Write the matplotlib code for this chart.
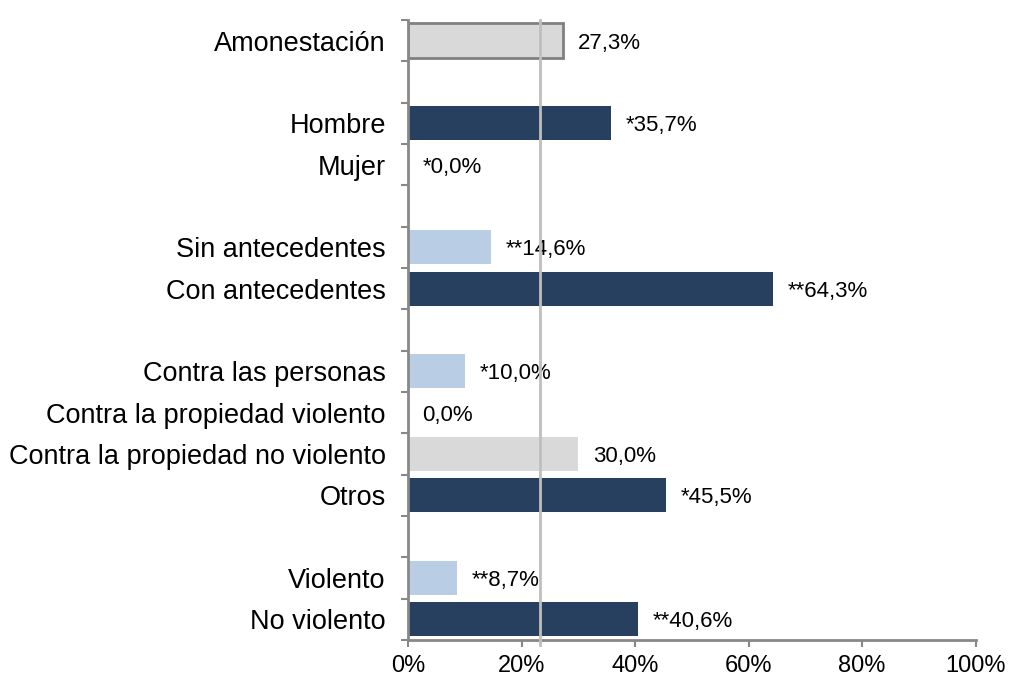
import matplotlib.pyplot as plt
import numpy as np

plt.rcParams['font.family'] = ['Liberation Sans', 'DejaVu Sans']

# one slot per row, '' = empty spacer row
categories = ['Amonestación', '', 'Hombre', 'Mujer', '',
              'Sin antecedentes', 'Con antecedentes', '',
              'Contra las personas', 'Contra la propiedad violento',
              'Contra la propiedad no violento', 'Otros', '',
              'Violento', 'No violento']
values = [27.3, None, 35.7, 0.0, None,
          14.6, 64.3, None,
          10.0, 0.0, 30.0, 45.5, None,
          8.7, 40.6]
labels = ['27,3%', '', '*35,7%', '*0,0%', '',
          '**14,6%', '**64,3%', '',
          '*10,0%', '0,0%', '30,0%', '*45,5%', '',
          '**8,7%', '**40,6%']
kinds = ['total', '', 'dark', 'dark', '',
         'light', 'dark', '',
         'light', 'grey', 'grey', 'dark', '',
         'light', 'dark']
reference_line = 23.2
xticks = [0, 20, 40, 60, 80, 100]

colors = {'total': '#D9D9D9', 'dark': '#27405F', 'light': '#B9CDE5', 'grey': '#D9D9D9'}

fig = plt.figure(figsize=(10.1, 6.79), dpi=100)
ax = fig.add_axes([0.404, 0.0574, 0.562, 0.9131])

n = len(categories)
ypos = np.arange(n)
for y, v, lab, k in zip(ypos, values, labels, kinds):
    if v is None:
        continue
    if k == 'total':
        ax.barh(y, v, height=0.84, color=colors[k], edgecolor='#808080', linewidth=2, zorder=2)
    else:
        ax.barh(y, v, height=0.82, color=colors[k], zorder=2)
    ax.annotate(lab, (v, y), xytext=(10.5, 0), textcoords='offset points',
                va='center_baseline', ha='left', fontsize=16, color='black')

ax.axvline(reference_line, ymin=-0.008, ymax=1, color='#BFBFBF', linewidth=2, zorder=3, clip_on=False)

ax.set_xlim(0, 100)
ax.set_ylim(n - 0.5, -0.5)
ax.set_xticks(xticks)
ax.set_xticklabels([f'{t}%' for t in xticks], fontsize=17)
ax.set_yticks(ypos)
ax.set_yticklabels(categories, fontsize=19.5)
ax.set_yticks(np.arange(-0.5, n, 1), minor=True)
ax.tick_params(axis='y', which='major', length=0, pad=16)
ax.tick_params(axis='y', which='minor', length=5, width=1.5, color='#888888', direction='out')
ax.tick_params(axis='x', length=5, width=1.5, color='#888888', pad=6)

for s in ['top', 'right']:
    ax.spines[s].set_visible(False)
for s in ['left', 'bottom']:
    ax.spines[s].set_color('#888888')
    ax.spines[s].set_linewidth(2)

fig.savefig('out.png', dpi=100)
